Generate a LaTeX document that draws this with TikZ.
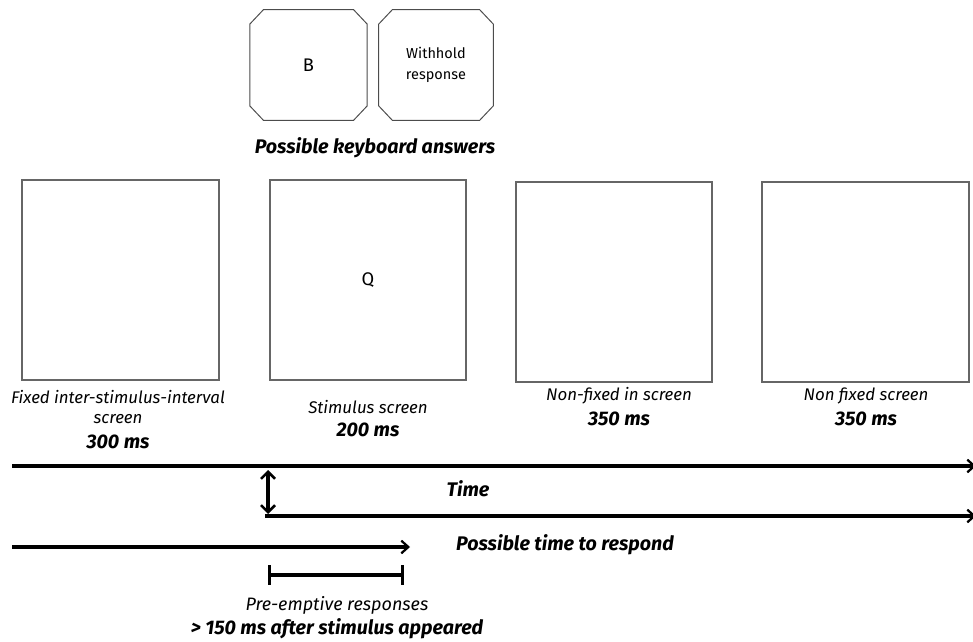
\documentclass[tikz,border=0pt]{standalone}
\usepackage{fontspec}
\setmainfont{Fira Sans}
\usetikzlibrary{positioning,arrows.meta}

\newcommand{\KeyOct}[1]{\draw[draw=black!70,line width=0.7pt] ([xshift=0.34cm]#1.north west)--([xshift=-0.34cm]#1.north east)--([yshift=-0.36cm]#1.north east)--([yshift=0.36cm]#1.south east)--([xshift=-0.34cm]#1.south east)--([xshift=0.34cm]#1.south west)--([yshift=0.36cm]#1.south west)--([yshift=-0.36cm]#1.north west)--cycle;}

\begin{document}
\begin{tikzpicture}[x=0.025cm,y=-0.025cm,>={Straight Barb[length=5pt,width=9pt,line width=1.6pt]},
 every node/.style={font=\fontsize{11}{13}\selectfont},
 screen/.style={draw=black!60,line width=0.8pt,minimum height=5cm,inner sep=0pt},
 keybox/.style={minimum height=2.75cm,inner sep=0pt,align=center,font=\fontsize{10.3}{15}\selectfont},
 lbl/.style={font=\fontsize{12}{14}\selectfont\itshape,align=center},
 dur/.style={font=\fontsize{14}{16}\selectfont\bfseries\itshape},
 tline/.style={line width=2.6pt}]
\useasboundingbox (0,0) rectangle (973,642);
% keyboard answers
\node[keybox,minimum width=2.92cm,font=\fontsize{13}{15}\selectfont] (KeyB) at (308.5,65) {B};
\node[keybox,minimum width=2.85cm] (KeyW) at (436,65) {Withhold\\response};
\KeyOct{KeyB}\KeyOct{KeyW}
\node[dur] (KeyTitle) at (375,148) {Possible keyboard answers};
% screens
\node[screen,minimum width=4.925cm] (ScrIsi) at (120.5,280) {};
\node[screen,minimum width=4.9cm,font=\fontsize{13}{15}\selectfont] (ScrStim) at (368,280) {Q};
\node[screen,minimum width=4.9cm] (ScrNf1) at (614,282) {};
\node[screen,minimum width=5.175cm] (ScrNf2) at (865.5,282) {};
\node[lbl] (LblIsi) at (118,407) {Fixed inter-stimulus-interval\\screen};
\node[dur] (DurIsi) at (118,442) {300 ms};
\node[lbl] (LblStim) at (368,407) {Stimulus screen};
\node[dur] (DurStim) at (368,430) {200 ms};
\node[lbl] (LblNf1) at (619,396) {Non-fixed in screen};
\node[dur] (DurNf1) at (619,419) {350 ms};
\node[lbl] (LblNf2) at (866,396) {Non fixed screen};
\node[dur] (DurNf2) at (866,419) {350 ms};
% time lines
\coordinate (TimeA) at (12,466);\coordinate (TimeB) at (976,466);
\coordinate (RespA) at (265,516);\coordinate (RespB) at (976,516);
\coordinate (OnA) at (268,470);\coordinate (OnB) at (268,514);
\coordinate (PreA) at (12,547);\coordinate (PreB) at (410,547);
\coordinate (BarA) at (268,575);\coordinate (BarB) at (404,575);
\draw[tline,->] (TimeA)--(TimeB);
\draw[tline,->] (RespA)--(RespB);
\draw[line width=2.2pt,{Straight Barb[length=5pt,width=10pt,line width=1.8pt]}-{Straight Barb[length=5pt,width=10pt,line width=1.8pt]}] (OnA)--(OnB);
\draw[tline,->] (PreA)--(PreB);
\draw[line width=2.2pt,{Bar[width=14pt,line width=2.2pt]}-{Bar[width=14pt,line width=2.2pt]}] (BarA)--(BarB);
\node[dur] (TimeLbl) at (468,489) {Time};
\node[dur] (RespLbl) at (565,545) {Possible time to respond};
\node[lbl,font=\fontsize{12.8}{15}\selectfont\itshape] (PreLbl) at (337,605) {Pre-emptive responses};
\node[dur] (PreDur) at (337,629) {> 150 ms after stimulus appeared};
\end{tikzpicture}
\end{document}
